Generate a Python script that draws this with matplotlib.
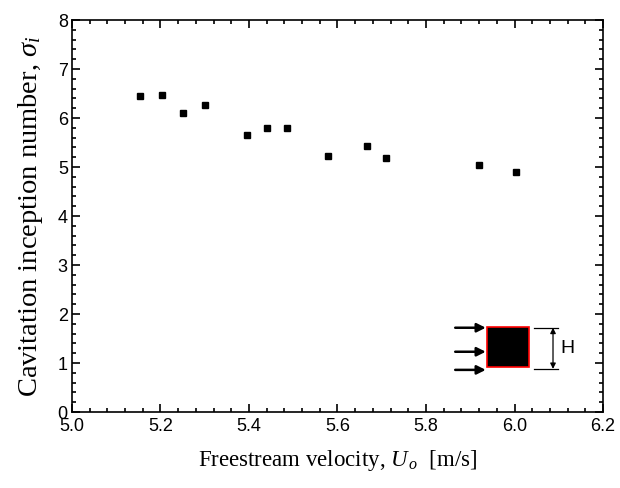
import matplotlib
matplotlib.use("Agg")
import matplotlib.pyplot as plt
from matplotlib.ticker import MultipleLocator

# data
velocity = [5.154, 5.203, 5.252, 5.300, 5.395, 5.441, 5.487, 5.578, 5.666, 5.710, 5.920, 6.003]
sigma_i = [6.45, 6.46, 6.10, 6.26, 5.66, 5.79, 5.80, 5.23, 5.43, 5.19, 5.04, 4.89]

x_ticks = [5.0, 5.2, 5.4, 5.6, 5.8, 6.0, 6.2]
y_ticks = [0, 1, 2, 3, 4, 5, 6, 7, 8]

plt.rcParams['mathtext.fontset'] = 'custom'
plt.rcParams['mathtext.rm'] = 'Liberation Serif'
plt.rcParams['mathtext.it'] = 'Liberation Serif:italic'

fig = plt.figure(figsize=(6.2, 4.88), dpi=100)
ax = fig.add_axes([0.1161, 0.1557, 0.8565, 0.8033])

ax.plot(velocity, sigma_i, linestyle='none', marker='s', markersize=5,
        color='black')

ax.set_xlim(5.0, 6.2)
ax.set_ylim(0, 8)
ax.set_xticks(x_ticks)
ax.set_yticks(y_ticks)
ax.set_xticklabels([f"{v:.1f}" for v in x_ticks], family='Liberation Sans', fontsize=13)
ax.set_yticklabels([str(v) for v in y_ticks], family='Liberation Sans', fontsize=13)
ax.xaxis.set_minor_locator(MultipleLocator(0.04))
ax.yaxis.set_minor_locator(MultipleLocator(0.2))
ax.tick_params(which='both', direction='in', top=True, right=True, width=1.2)
ax.tick_params(which='major', length=6, pad=3)
ax.tick_params(axis='x', which='major', pad=4)
ax.tick_params(which='minor', length=3)
for s in ax.spines.values():
    s.set_linewidth(1.2)

ax.set_xlabel(r"Freestream velocity, $U_{\,o}$  [m/s]", family='Liberation Serif',
              fontsize=16.5, labelpad=10)
ax.set_ylabel(r"Cavitation inception number, $\sigma_i$", family='Liberation Serif',
              fontsize=20.5, labelpad=9)

# inset schematic: square cylinder in crossflow
ax.add_patch(plt.Rectangle((5.937, 0.92), 0.095, 0.825, facecolor='black',
                           edgecolor='red', linewidth=1.2, zorder=3))
for yy in [1.72, 1.23, 0.86]:
    ax.annotate("", xy=(5.935, yy), xytext=(5.866, yy),
                arrowprops=dict(arrowstyle='-|>', color='black', lw=1.8,
                                mutation_scale=13, shrinkA=0, shrinkB=0))
ax.plot([6.045, 6.099], [1.72, 1.72], color='black', lw=0.9)
ax.plot([6.045, 6.099], [0.88, 0.88], color='black', lw=0.9)
ax.annotate("", xy=(6.087, 1.72), xytext=(6.087, 0.88),
            arrowprops=dict(arrowstyle='<|-|>', color='black', lw=0.9,
                            mutation_scale=8, shrinkA=0, shrinkB=0))
ax.text(6.104, 1.30, "H", family='Liberation Sans', fontsize=14, va='center', ha='left')

fig.savefig("out.png", dpi=100)
